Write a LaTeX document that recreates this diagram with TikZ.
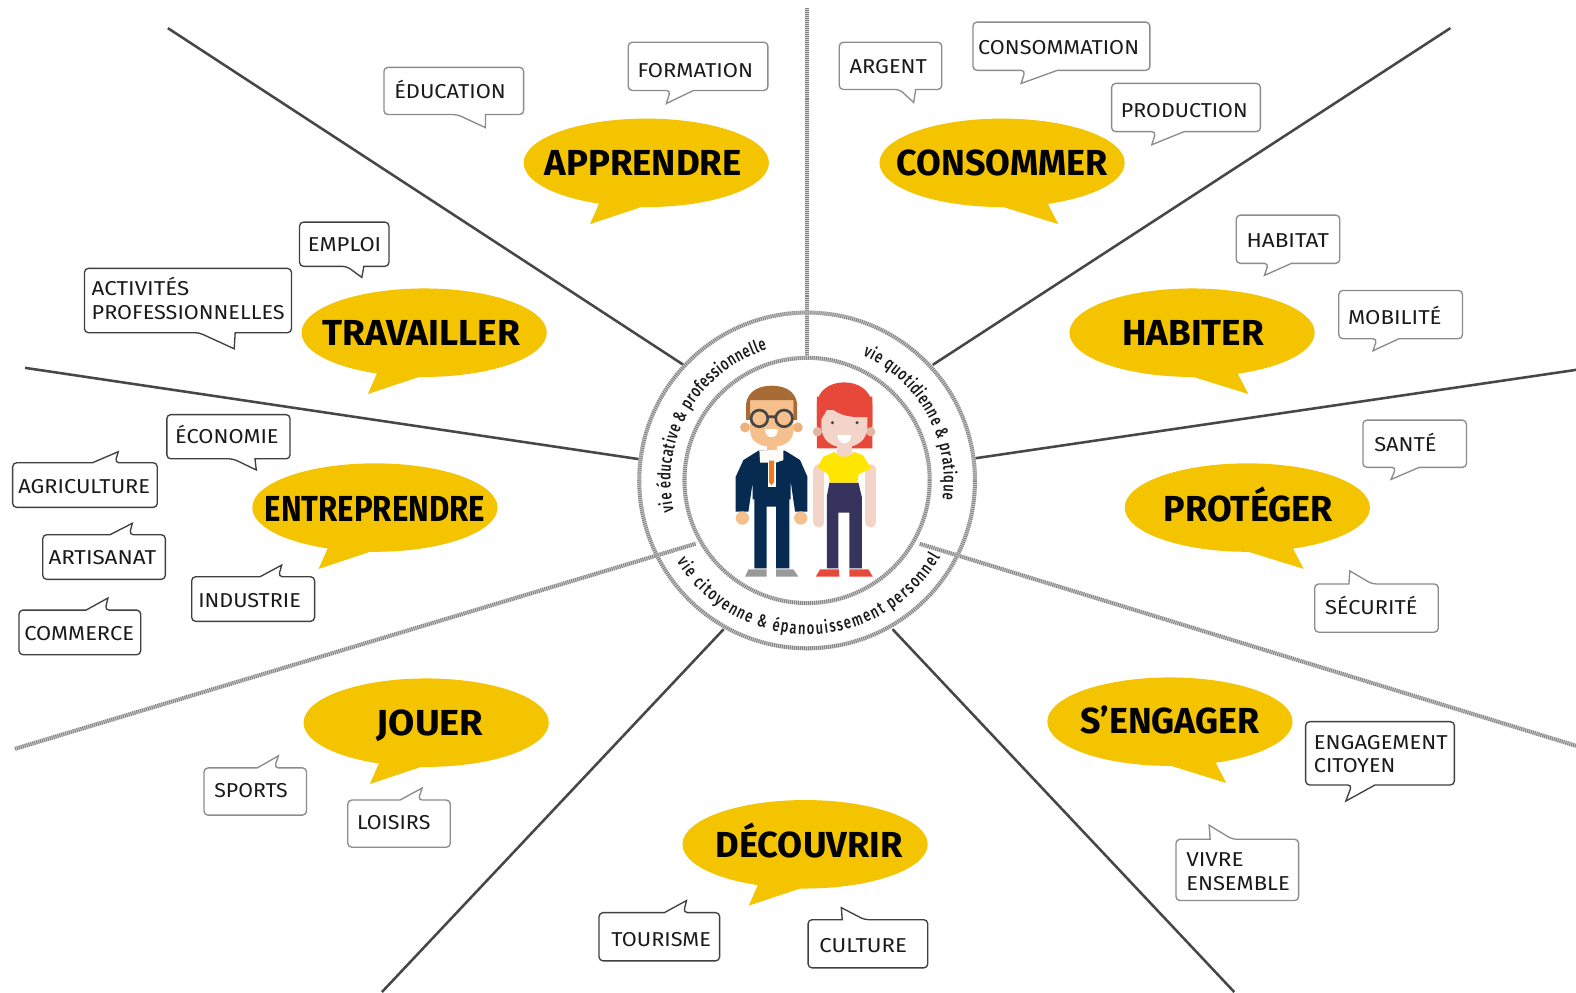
\documentclass[tikz,border=0pt]{standalone}
\usepackage{graphicx}
\usepackage{fontspec}
\usetikzlibrary{shapes.geometric,decorations.text}
\setmainfont{Fira Sans}
\newfontfamily\ringfont[FakeStretch=0.74]{Fira Sans Medium}
\definecolor{yel}{HTML}{F4C400}
\definecolor{ink}{HTML}{1A1A1A}
\definecolor{navy}{HTML}{062A50}
\definecolor{skin}{HTML}{F6C08E}
\definecolor{skind}{HTML}{F0B07A}
\definecolor{hairb}{HTML}{A96B36}
\definecolor{redh}{HTML}{E8483A}
\definecolor{pink}{HTML}{F3D4C8}
\definecolor{pinkd}{HTML}{E3B6A3}
\definecolor{pants}{HTML}{37335F}
\definecolor{shirt}{HTML}{FFE600}
\definecolor{tieo}{HTML}{EE7A1E}
\tikzset{
  solidray/.style={draw=black!72,line width=1.9pt},
  hatch/.style={preaction={draw=black!18,line width=3pt},draw=black!48,line width=3pt,dash pattern=on 0.75pt off 0.75pt},
  lightb/.style={draw=black!45,fill=white,line width=1pt,rounded corners=3pt},
  darkb/.style={draw=black!75,fill=white,line width=1pt,rounded corners=3pt},
  lab/.style={anchor=base west,inner sep=0pt,text=ink,font=\fontsize{15}{18}\selectfont},
  biglab/.style={anchor=base,inner sep=0pt,text=black,font=\fontsize{27}{30}\selectfont\bfseries},
  ybub/.style={ellipse,fill=yel,minimum width=183pt,minimum height=66pt,inner sep=0pt},
}
% #1 target width in px, #2 text: fits the text horizontally
\newcommand\fitw[2]{\setbox0\hbox{#2}\pgfmathparse{#1*0.75/\the\wd0}\scalebox{\pgfmathresult}[1]{\box0}}
% name cx cy text-cx text-base width text
\newcommand\yellowL[7]{
  \node[ybub] (#1) at (#2,-#3) {};
  \fill[yel] ([shift={(-45,-36)}]#1.center) -- ([shift={(-56,-61)}]#1.center) -- ([shift={(-5,-44)}]#1.center) -- ([shift={(25,-40)}]#1.center) -- cycle;
  \node[biglab] (#1t) at (#4+1,-#5-1) {\fitw{#6}{#7}};}
\newcommand\yellowR[7]{
  \node[ybub] (#1) at (#2,-#3) {};
  \fill[yel] ([shift={(44,-38)}]#1.center) -- ([shift={(56,-61)}]#1.center) -- ([shift={(-2,-43)}]#1.center) -- ([shift={(-25,-40)}]#1.center) -- cycle;
  \node[biglab] (#1t) at (#4+1,-#5-1) {\fitw{#6}{#7}};}
% style x1 y1 x2 y2 a b tipx tipy
\newcommand\bubB[9]{\draw[#1] (#7,-#5) -- (#4,-#5) -- (#4,-#3) -- (#2,-#3) -- (#2,-#5) -- (#6,-#5) [sharp corners] -- (#8,-#9) -- cycle;}
\newcommand\bubT[9]{\draw[#1] (#6,-#3) -- (#2,-#3) -- (#2,-#5) -- (#4,-#5) -- (#4,-#3) -- (#7,-#3) [sharp corners] -- (#8,-#9) -- cycle;}
% name x base width text
\newcommand\lbl[5]{\node[lab] (#1) at (#2,-#3) {\fitw{#4}{#5}};}
\begin{document}
\begin{tikzpicture}[x=0.75pt,y=0.75pt]
\useasboundingbox (0,0) rectangle (1568,-987);
\fill[white] (0,0) rectangle (1568,-987);
\coordinate (c) at (803,-478);
% free ends of the rays
\coordinate (t0) at (803,-8);      \coordinate (i0) at (803,-355);
\coordinate (t1) at (1443,-28);    \coordinate (i1) at (928,-363);
\coordinate (t2) at (1568,-368);   \coordinate (i2) at (970,-456);
\coordinate (t3) at (1568,-742);   \coordinate (i3) at (915,-541);
\coordinate (t4) at (1228,-987);   \coordinate (i4) at (888,-626);
\coordinate (t5) at (380,-987);    \coordinate (i5) at (720,-626);
\coordinate (t6) at (15,-745);     \coordinate (i6) at (692,-541);
\coordinate (t7) at (25,-366);     \coordinate (i7) at (637,-457);
\coordinate (t8) at (167,-28);     \coordinate (i8) at (680,-363);
\draw[solidray] (t1) -- (i1);
\draw[solidray] (t2) -- (i2);
\draw[solidray] (t4) -- (i4);
\draw[solidray] (t5) -- (i5);
\draw[solidray] (t7) -- (i7);
\draw[solidray] (t8) -- (i8);
\draw[hatch] (t0) -- (i0);
\draw[hatch] (t3) -- (i3);
\draw[hatch] (t6) -- (i6);
% rings
\draw[hatch] (c) circle (167);
\draw[hatch] (c) circle (122);
% ring labels
\newcommand\rf{\ringfont\fontsize{13.2}{15}\selectfont\color{ink}}
\path[decorate,decoration={text along path,text align={fit to path},text={|\rf|vie éducative {\&} professionnelle}}]
  (c) ++(193:136) arc (193:107:136);
\path[decorate,decoration={text along path,text align={fit to path},text={|\rf|vie quotidienne {\&} pratique}}]
  (c) ++(66:136) arc (66:-8:136);
\path[decorate,decoration={text along path,text align={fit to path},text={|\rf|vie citoyenne {\&} épanouissement personnel}}]
  (c) ++(212:153) arc (212:330:153);
% people
\begin{scope}[shift={(616.9,-288.56)},xscale=.3317,yscale=-.3317]
  % man
  \fill[skin] (440,460) rectangle (470,500);
  \fill[skind] (375,412) circle (15) (533,412) circle (15);
  \fill[skin] (390,330) -- (520,330) -- (520,420) .. controls (520,455) and (490,470) .. (455,470) .. controls (420,470) and (390,455) .. (390,420) -- cycle;
  \fill[hairb] (378,390) -- (378,340) .. controls (385,300) and (420,287) .. (455,287) .. controls (490,287) and (525,300) .. (531,340) -- (531,390) -- (520,390) -- (520,330) -- (390,330) -- (390,390) -- cycle;
  \fill[white] (435,418) -- (475,418) .. controls (475,450) and (435,450) .. (435,418) -- cycle;
  \draw[black!72,line width=2pt] (418,385) circle (25) (492,385) circle (25) (443,380) -- (467,380);
  \fill[navy] (403,600) -- (508,600) -- (508,835) -- (468,835) -- (468,650) -- (440,650) -- (440,835) -- (403,835) -- cycle;
  \fill[navy] (415,482) -- (495,482) -- (540,510) -- (562,560) -- (562,665) -- (525,665) -- (512,575) -- (512,628) -- (398,628) -- (398,575) -- (385,665) -- (347,665) -- (347,560) -- (370,510) -- cycle;
  \fill[white] (443,505) -- (467,505) -- (467,592) -- (443,592) -- cycle;
  \fill[white!92!skin] (418,482) -- (490,478) -- (490,510) -- (467,518) -- (443,518) -- (420,518) -- cycle;
  \fill[tieo] (447,512) -- (462,512) -- (462,576) -- (454,586) -- (447,576) -- cycle;
  \fill[skin] (367,684) circle (20) (542,684) circle (20);
  \fill[black!40] (375,860) -- (385,838) -- (440,838) -- (440,860) -- cycle;
  \fill[black!40] (468,838) -- (520,838) -- (535,860) -- (468,860) -- cycle;
  % woman
  \fill[redh] (590,475) -- (590,340) .. controls (595,300) and (630,277) .. (672,277) .. controls (715,277) and (752,300) .. (757,345) -- (757,475) -- cycle;
  \fill[pinkd] (592,425) circle (14) (752,425) circle (14);
  \fill[pink] (650,460) rectangle (695,500);
  \fill[pink] (604,360) -- (742,360) -- (742,410) .. controls (742,450) and (710,472) .. (672,472) .. controls (634,472) and (604,450) .. (604,410) -- cycle;
  \fill[redh] (590,405) -- (590,320) -- (757,320) -- (757,405) -- (748,380) .. controls (700,385) and (650,378) .. (625,345) .. controls (620,365) and (605,385) .. (590,405) -- cycle;
  \fill[white] (652,435) -- (694,435) .. controls (692,468) and (654,468) .. (652,435) -- cycle;
  \fill[black!75] (637,398) circle (5) (711,398) circle (5);
  \draw[pink,line width=8.5pt,line cap=round] (596,540) -- (596,695);
  \draw[pink,line width=8.5pt,line cap=round] (752,540) -- (752,695);
  \fill[pants] (628,578) -- (715,578) -- (725,620) -- (725,835) -- (688,835) -- (688,668) -- (655,668) -- (655,835) -- (620,835) -- (620,620) -- cycle;
  \fill[shirt] (645,485) .. controls (650,505) and (695,505) .. (700,485) -- (728,495) -- (754,535) -- (716,552) -- (712,578) -- (630,578) -- (624,552) -- (592,532) -- (610,500) -- cycle;
  \fill[redh] (587,860) -- (600,838) -- (656,838) -- (658,860) -- cycle;
  \fill[redh] (688,838) -- (745,838) -- (758,860) -- (688,860) -- cycle;
\end{scope}
% yellow bubbles
\yellowL{apprendre}{643}{162}{639}{174}{196}{APPRENDRE}
\yellowR{consommer}{997}{162}{996}{174}{210}{CONSOMMER}
\yellowL{travailler}{422}{331}{418}{343}{197}{TRAVAILLER}
\yellowR{habiter}{1186}{331}{1186}{343}{141}{HABITER}
\yellowL{entreprendre}{373}{505}{372}{518}{219}{ENTREPRENDRE}
\yellowR{proteger}{1241}{505}{1241}{518}{168}{PROTÉGER}
\yellowL{jouer}{424}{719}{427}{731}{106}{JOUER}
\yellowR{engager}{1164}{718}{1163}{729}{178}{S’ENGAGER}
\yellowL{decouvrir}{801}{840}{804}{852}{186}{DÉCOUVRIR}
% small bubbles
\bubB{lightb}{382}{67}{521}{114}{455}{483}{483}{127}
\lbl{education}{392}{98}{111}{ÉDUCATION}
\bubB{lightb}{625}{42}{764}{90}{667}{690}{663}{103}
\lbl{formation}{634}{77}{115}{FORMATION}
\bubB{lightb}{835}{42}{937}{89}{895}{911}{909}{102}
\lbl{argent}{845}{73}{77}{ARGENT}
\bubB{lightb}{968}{22}{1144}{70}{1020}{1052}{1016}{83}
\lbl{consommation}{973}{54}{160}{CONSOMMATION}
\bubB{lightb}{1106}{83}{1254}{131}{1150}{1178}{1146}{144}
\lbl{production}{1115}{117}{126}{PRODUCTION}
\bubB{darkb}{298}{221}{387}{265}{345}{362}{360}{276}
\lbl{emploi}{306}{250}{73}{EMPLOI}
\bubB{darkb}{84}{267}{290}{331}{198}{234}{233}{347}
\lbl{activites}{91}{294}{97}{ACTIVITÉS}
\lbl{professionnelles}{91}{318}{192}{PROFESSIONNELLES}
\bubB{lightb}{1230}{214}{1333}{262}{1262}{1285}{1258}{274}
\lbl{habitat}{1240}{246}{82}{HABITAT}
\bubB{lightb}{1332}{289}{1455}{337}{1370}{1392}{1366}{349}
\lbl{mobilite}{1341}{323}{93}{MOBILITÉ}
\bubB{lightb}{1356}{418}{1459}{465}{1389}{1412}{1384}{477}
\lbl{sante}{1367}{449}{62}{SANTÉ}
\bubT{lightb}{1308}{581}{1431}{629}{1342}{1365}{1343}{568}
\lbl{securite}{1318}{611}{92}{SÉCURITÉ}
\bubB{darkb}{166}{412.5}{288.6}{456.5}{232}{253.7}{255}{467.6}
\lbl{economie}{174}{441}{103}{ÉCONOMIE}
\bubT{darkb}{12.6}{460.4}{156.5}{504.8}{92}{114.4}{117.7}{449.4}
\lbl{agriculture}{18}{491}{131}{AGRICULTURE}
\bubT{darkb}{42.5}{532}{164.5}{576.4}{109.5}{128.7}{131.7}{520.6}
\lbl{artisanat}{48}{562}{107}{ARTISANAT}
\bubT{darkb}{18.9}{607}{140}{651.4}{85.6}{104.5}{107.4}{595}
\lbl{commerce}{24}{637}{109}{COMMERCE}
\bubT{darkb}{190.7}{573.8}{313}{618.2}{258.7}{277}{280.3}{562.2}
\lbl{industrie}{197}{604}{102}{INDUSTRIE}
\bubT{lightb}{203}{764}{305}{811}{256}{273}{277}{752}
\lbl{sports}{213}{793}{73}{SPORTS}
\bubT{lightb}{346}{796}{448}{843}{398}{416}{420}{784}
\lbl{loisirs}{355}{825}{73}{LOISIRS}
\bubT{darkb}{596}{908}{716}{956}{661}{680}{683}{896}
\lbl{tourisme}{608}{942}{99}{TOURISME}
\bubT{darkb}{804}{915}{923}{963}{838}{860}{837}{903}
\lbl{culture}{815}{948}{87}{CULTURE}
\bubT{lightb}{1170}{835}{1292}{896}{1204}{1226}{1203}{821}
\lbl{vivre}{1180}{862}{57}{VIVRE}
\lbl{ensemble}{1180}{886}{103}{ENSEMBLE}
\bubB{darkb}{1299}{718}{1447}{781}{1345}{1368}{1339}{797}
\lbl{engagement}{1307}{746}{133}{ENGAGEMENT}
\lbl{citoyen}{1307}{769}{81}{CITOYEN}
\end{tikzpicture}
\end{document}
